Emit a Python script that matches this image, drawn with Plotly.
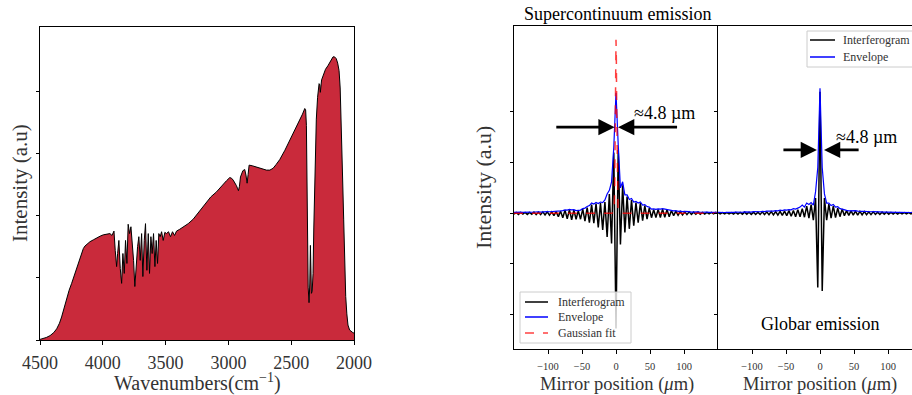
import numpy as np
import plotly.graph_objects as go

# ---------------- Left panel: supercontinuum spectrum ----------------
wavenumber = [4500, 4480, 4450, 4420, 4390, 4367, 4345, 4328, 4308, 4288, 4268, 4248, 4228, 4208,
              4188, 4169, 4155, 4142, 4120, 4102, 4075, 4050, 4020, 3996, 3970, 3943,
              3927, 3911, 3901, 3890, 3882, 3872, 3861, 3850, 3840, 3829, 3819, 3808, 3798, 3787,
              3776, 3766, 3755, 3745, 3734, 3723, 3713, 3702, 3691, 3681, 3670, 3660, 3649, 3638,
              3628, 3617, 3607, 3596, 3585, 3575, 3564, 3554, 3543, 3532, 3519, 3506, 3493, 3477,
              3461, 3445, 3429, 3413, 3387,
              3350, 3320, 3281, 3250, 3220, 3174, 3140, 3095, 3070, 3042, 3015, 2989, 2975, 2962,
              2948, 2936, 2928, 2920, 2912, 2904, 2885, 2870, 2860, 2851, 2843, 2835, 2810, 2777,
              2740, 2697, 2670, 2644, 2620, 2591, 2550, 2511, 2470, 2432, 2410, 2392, 2385, 2379,
              2375, 2371, 2365, 2358, 2352, 2347, 2343, 2339, 2333, 2326, 2320, 2313, 2306, 2300,
              2290, 2278, 2272, 2268, 2258, 2247, 2227, 2207, 2187, 2167, 2155, 2141, 2130, 2119,
              2110, 2101, 2092, 2082, 2074, 2066, 2057, 2048, 2035, 2021, 2010, 2000]
spectrum = [0.01, 0.02, 0.04, 0.07, 0.12, 0.18, 0.27, 0.37, 0.52, 0.68, 0.80, 0.91, 1.03, 1.15,
            1.28, 1.41, 1.47, 1.51, 1.55, 1.58, 1.61, 1.64, 1.67, 1.69, 1.70, 1.71,
            1.68, 1.75, 1.44, 1.18, 1.39, 1.60, 1.15, 0.91, 1.39, 1.07, 1.60, 1.23, 1.86, 1.71,
            1.82, 1.60, 1.28, 0.86, 1.28, 1.50, 1.66, 1.28, 1.71, 1.02, 1.60, 1.87, 1.12, 1.71,
            1.07, 1.66, 1.39, 1.71, 1.18, 1.60, 1.23, 1.71, 1.66, 1.74, 1.60, 1.73, 1.71, 1.74,
            1.66, 1.74, 1.68, 1.75, 1.78,
            1.83, 1.87, 1.94, 2.02, 2.10, 2.22, 2.30, 2.38, 2.44, 2.50, 2.56, 2.61, 2.60, 2.57,
            2.53, 2.48, 2.44, 2.40, 2.47, 2.62, 2.72, 2.74, 2.65, 2.52, 2.66, 2.81, 2.80, 2.78,
            2.75, 2.73, 2.73, 2.76, 2.82, 2.90, 3.05, 3.21, 3.37, 3.53, 3.63, 3.72, 3.70, 3.45,
            2.60, 1.40, 0.85, 0.60, 0.90, 1.52, 1.00, 0.75, 0.78, 1.07, 1.80, 2.46, 3.10, 3.55,
            3.90, 4.12, 4.10, 3.98, 4.18, 4.25, 4.35, 4.41, 4.48, 4.55, 4.55, 4.52, 4.45, 4.33,
            4.05, 3.53, 2.70, 1.93, 1.20, 0.70, 0.42, 0.24, 0.16, 0.13, 0.12, 0.11]
wn_ticks = [4500, 4000, 3500, 3000, 2500, 2000]

# ---------------- Right panels: interferograms ----------------
# samples at k = -46..46 (about 3.26 um apart, spanning -150..150 um)
mirror_pos = np.linspace(-150, 150, 93)

sc_interferogram = [
    -0.02, 0.015, -0.025, 0.015, -0.02, 0.015, -0.025, 0.015, -0.02, 0.02,
    -0.03, 0.02, -0.03, 0.025, -0.035, 0.025, -0.04, 0.025, -0.05, 0.03,
    -0.07, 0.04, -0.09, 0.06, -0.11, 0.07, -0.13, 0.06, -0.12, 0.05,
    -0.12, 0.08, -0.16, 0.11, -0.19, 0.17, -0.20, 0.19, -0.28, 0.20,
    -0.33, 0.22, -0.47, 0.38, -0.60, 1.20,
    -2.28,
    1.25, -0.62, 0.55, -0.38, 0.33, -0.31, 0.26, -0.25, 0.21, -0.19,
    0.20, -0.15, 0.15, -0.12, 0.10, -0.09, 0.07, -0.085, 0.075, -0.085,
    0.08, -0.08, 0.07, -0.07, 0.05, -0.05, 0.04, -0.04, 0.03, -0.035,
    0.025, -0.03, 0.025, -0.025, 0.02, -0.02, 0.02, -0.02, 0.015, -0.02,
    0.015, -0.015, 0.015, -0.015, 0.015, -0.015]
sc_envelope = [
    0.015, 0.02, 0.012, 0.02, 0.015, 0.02, 0.015, 0.02, 0.018, 0.025,
    0.02, 0.028, 0.022, 0.03, 0.025, 0.032, 0.028, 0.03, 0.027, 0.035,
    0.035, 0.045, 0.05, 0.065, 0.06, 0.075, 0.065, 0.07, 0.05, 0.055,
    0.06, 0.09, 0.10, 0.13, 0.15, 0.20, 0.18, 0.21, 0.19, 0.22,
    0.21, 0.26, 0.38, 0.45, 0.62, 1.30,
    2.38,
    1.35, 0.50, 0.62, 0.36, 0.36, 0.27, 0.29, 0.22, 0.23, 0.20,
    0.22, 0.16, 0.17, 0.13, 0.12, 0.08, 0.085, 0.075, 0.085, 0.08,
    0.09, 0.08, 0.08, 0.06, 0.06, 0.045, 0.05, 0.035, 0.04, 0.03,
    0.035, 0.025, 0.03, 0.022, 0.028, 0.02, 0.025, 0.018, 0.022, 0.016,
    0.02, 0.015, 0.02, 0.015, 0.018, 0.015]
fit_pos = [-150, -6, -3, -2, -1.5, -1, -0.5, 0, 0.5, 1, 1.5, 2, 3, 6, 150]
fit_vals = [0, 0, 0.02, 0.4, 1.1, 2.1, 3.05, 3.43, 3.05, 2.1, 1.1, 0.4, 0.02, 0, 0]

gb_interferogram = [
    0.01, -0.015, 0.012, -0.015, 0.012, -0.015, 0.012, -0.018, 0.015, -0.02,
    0.015, -0.02, 0.02, -0.02, 0.018, -0.025, 0.02, -0.025, 0.02, -0.025,
    0.025, -0.03, 0.025, -0.03, 0.03, -0.035, 0.03, -0.04, 0.035, -0.045,
    0.04, -0.05, 0.05, -0.06, 0.05, -0.07, 0.07, -0.07, 0.09, -0.08,
    0.14, -0.10, 0.17, -0.14, 0.30, -1.47,
    2.40,
    -1.54, 0.30, -0.14, 0.18, -0.10, 0.14, -0.09, 0.10, -0.07, 0.08,
    -0.05, 0.05, -0.045, 0.045, -0.04, 0.04, -0.04, 0.035, -0.035, 0.03,
    -0.03, 0.025, -0.03, 0.025, -0.025, 0.02, -0.025, 0.02, -0.02, 0.018,
    -0.02, 0.015, -0.02, 0.015, -0.018, 0.012, -0.015, 0.012, -0.015, 0.012,
    -0.015, 0.01, -0.012, 0.01, -0.012, 0.01]
gb_envelope = [
    0.015, 0.012, 0.018, 0.013, 0.018, 0.014, 0.02, 0.015, 0.02, 0.016,
    0.022, 0.018, 0.025, 0.02, 0.028, 0.022, 0.03, 0.025, 0.032, 0.028,
    0.035, 0.03, 0.04, 0.035, 0.045, 0.04, 0.05, 0.045, 0.06, 0.05,
    0.065, 0.06, 0.07, 0.065, 0.09, 0.08, 0.10, 0.12, 0.16, 0.12,
    0.20, 0.17, 0.21, 0.16, 0.42, 0.90,
    2.47,
    0.90, 0.38, 0.20, 0.20, 0.15, 0.17, 0.12, 0.13, 0.09, 0.08,
    0.06, 0.055, 0.045, 0.05, 0.045, 0.05, 0.04, 0.045, 0.035, 0.035,
    0.03, 0.032, 0.028, 0.03, 0.025, 0.028, 0.022, 0.025, 0.02, 0.022,
    0.018, 0.02, 0.016, 0.018, 0.015, 0.017, 0.014, 0.016, 0.013, 0.015,
    0.013, 0.014, 0.012, 0.014, 0.012, 0.013]
mirror_ticks = [-100, -50, 0, 50, 100]

legend1_labels = ["Interferogram", "Envelope", "Gaussian fit"]
legend2_labels = ["Interferogram", "Envelope"]

SERIF = "Liberation Serif"
W, H = 912, 395
BLACK = "black"
BLUE = "#0000FF"
RED = "rgba(255,0,0,0.75)"


def px(xp):
    return xp / W


def py(yp):
    return 1 - yp / H


fig = go.Figure()

fig.add_trace(go.Scatter(x=wavenumber, y=spectrum, mode="lines", fill="tozeroy",
                         fillcolor="#C92A3B", line=dict(color="black", width=1),
                         xaxis="x", yaxis="y", showlegend=False))

fig.add_trace(go.Scatter(x=mirror_pos, y=sc_interferogram, mode="lines", name="Interferogram",
                         line=dict(color=BLACK, width=1.5), xaxis="x2", yaxis="y2", showlegend=False))
fig.add_trace(go.Scatter(x=mirror_pos, y=sc_envelope, mode="lines", name="Envelope",
                         line=dict(color=BLUE, width=1.2), xaxis="x2", yaxis="y2", showlegend=False))
fig.add_trace(go.Scatter(x=fit_pos, y=fit_vals, mode="lines", name="Gaussian fit",
                         line=dict(color=RED, width=1.5, dash="dash"),
                         xaxis="x2", yaxis="y2", showlegend=False))

fig.add_trace(go.Scatter(x=mirror_pos, y=gb_interferogram, mode="lines", name="Interferogram",
                         line=dict(color=BLACK, width=1.5), xaxis="x3", yaxis="y3", showlegend=False))
fig.add_trace(go.Scatter(x=mirror_pos, y=gb_envelope, mode="lines", name="Envelope",
                         line=dict(color=BLUE, width=1.2), xaxis="x3", yaxis="y3", showlegend=False))

axis_common = dict(showgrid=False, zeroline=False, showline=True, linecolor="black",
                   linewidth=1, ticks="outside", ticklen=3.5, tickcolor="black", tickwidth=1,
                   automargin=False)

fig.update_layout(
    width=W, height=H,
    margin=dict(l=0, r=0, t=0, b=0, pad=0, autoexpand=False),
    paper_bgcolor="white", plot_bgcolor="white",
    font=dict(family=SERIF, color="black"),
    showlegend=False,
    xaxis=dict(domain=[px(40), px(354)], range=[4500, 2000], tickvals=wn_ticks,
               tickformat="d", tickfont=dict(size=18, family=SERIF, color="#333"),
               ticklabelstandoff=3, mirror=True, anchor="y", **axis_common),
    yaxis=dict(domain=[py(340), py(27)], range=[0, 5.03], tickvals=[0, 1, 2, 3, 4],
               showticklabels=False, mirror=True, anchor="x", **axis_common),
    xaxis2=dict(domain=[px(514), px(718)], range=[-150, 150], tickvals=mirror_ticks,
                tickfont=dict(size=10.5, family=SERIF, color="#333"), ticklabelstandoff=4,
                mirror=True, anchor="y2", **axis_common),
    yaxis2=dict(domain=[py(349), py(26)], range=[-2.686, 3.70], tickvals=[-2, -1, 0, 1, 2],
                showticklabels=False, anchor="x2", **axis_common),
    xaxis3=dict(domain=[px(718), 1.0], range=[-150, 135.3], tickvals=mirror_ticks,
                tickfont=dict(size=10.5, family=SERIF, color="#333"), ticklabelstandoff=4,
                mirror=True, anchor="y3", **axis_common),
    yaxis3=dict(domain=[py(349), py(26)], range=[-2.686, 3.70], tickvals=[-2, -1, 0, 1, 2],
                showticklabels=False, anchor="x3", **axis_common),
)

ann = []


def label(text, xp, yp, size, color="#333", angle=0):
    return dict(text=text, x=px(xp), y=py(yp), xref="paper", yref="paper",
                xanchor="center", yanchor="middle", showarrow=False, textangle=angle,
                font=dict(size=size, color=color, family=SERIF))


ann.append(label("Wavenumbers(cm<sup>−1</sup>)", 197, 382, 20))
ann.append(label("Intensity (a.u)", 20, 183, 21, angle=-90))
ann.append(label("Intensity (a.u)", 483, 187, 22, angle=-90))
ann.append(label("Mirror position (<i>μ</i>m)", 617, 384, 18.5))
ann.append(label("Mirror position (<i>μ</i>m)", 820, 384, 18.5))
ann.append(label("Supercontinuum emission", 618, 14, 18, color="black"))

ann.append(dict(text="Globar emission", x=0, y=-2.2, xref="x3", yref="y3",
                xanchor="center", yanchor="middle", showarrow=False,
                font=dict(size=18, color="black")))
ann.append(dict(text="≈4.8 µm", x=71, y=1.98, xref="x2", yref="y2",
                xanchor="center", yanchor="middle", showarrow=False,
                font=dict(size=18, color="black")))
ann.append(dict(text="≈4.8 µm", x=69, y=1.5, xref="x3", yref="y3",
                xanchor="center", yanchor="middle", showarrow=False,
                font=dict(size=18, color="black")))


def arrow(xr, yr, x, y, ax, ay):
    return dict(x=x, y=y, ax=ax, ay=ay, xref=xr, yref=yr, axref=xr, ayref=yr, text="",
                showarrow=True, arrowhead=2, arrowsize=1.25, arrowwidth=2.6, arrowcolor="black",
                standoff=0, startstandoff=0)


ann.append(arrow("x2", "y2", -2, 1.70, -90, 1.70))
ann.append(arrow("x2", "y2", 3, 1.70, 92, 1.70))
ann.append(arrow("x3", "y3", -4.5, 1.25, -56, 1.25))
ann.append(arrow("x3", "y3", 5.9, 1.25, 59, 1.25))

# ---- legends (box, line samples, labels) ----
shapes = []


def legend_box(x0, x1, y0, y1, items, rows, line_x0, line_x1, text_x):
    shapes.append(dict(type="rect", xref="paper", yref="paper", layer="above",
                       x0=px(x0), x1=px(x1), y0=py(y1), y1=py(y0),
                       fillcolor="rgba(255,255,255,0.8)", line=dict(color="#cccccc", width=1)))
    for (name, color, dash), yrow in zip(items, rows):
        shapes.append(dict(type="line", xref="paper", yref="paper", layer="above",
                           x0=px(line_x0), x1=px(line_x1), y0=py(yrow), y1=py(yrow),
                           line=dict(color=color, width=1.5, dash=dash)))
        ann.append(dict(text=name, x=px(text_x), y=py(yrow), xref="paper", yref="paper",
                        xanchor="left", yanchor="middle", showarrow=False,
                        font=dict(size=12, color="#333", family=SERIF)))


legend_box(520, 631, 292, 343,
           list(zip(legend1_labels, [BLACK, BLUE, RED], ["solid", "solid", "dash"])),
           [302, 317, 333], 525, 548, 556)
legend_box(807, 918, 31, 67,
           list(zip(legend2_labels, [BLACK, BLUE], ["solid", "solid"])),
           [40, 57], 810, 835, 841)

fig.update_layout(annotations=ann, shapes=shapes)

fig.write_html("out.html")
